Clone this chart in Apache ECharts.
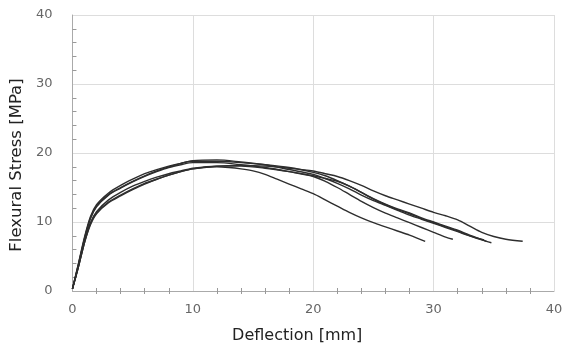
<!DOCTYPE html>
<html>
<head>
<meta charset="utf-8">
<script src="https://cdn.jsdelivr.net/npm/echarts@6/dist/echarts.min.js"></script>
<style>
  html, body { margin: 0; padding: 0; background: #fff; }
  #chart { width: 566px; height: 349px; }
</style>
</head>
<body>
<div id="chart"></div>
<script>
// specimen curves, [deflection mm, stress MPa]
var curveA = [[0,0.3],[0.5,3.5],[1,7],[1.5,9.8],[2,11.3],[3,12.9],[4,13.9],[5,14.8],[6,15.6],[7,16.2],[8,16.8],[9,17.3],[10,17.7],[12,18.0],[13,17.9],[14,17.7],[15,17.4],[16,16.9],[17,16.2],[18,15.5],[19,14.8],[20,14.1],[21,13.2],[22,12.3],[23,11.4],[24,10.6],[25,9.9],[26,9.3],[27,8.7],[28,8.1],[29.3,7.2]];
var curveB = [[0,0.3],[0.5,3.8],[1,7.5],[1.5,10.5],[2,12.2],[3,13.9],[4,14.9],[5,15.8],[6,16.6],[7,17.3],[8,17.9],[9,18.3],[10,18.6],[12,18.6],[14,18.3],[16,17.9],[18,17.3],[20,16.6],[21,15.9],[22,15.0],[23,14.0],[24,13.0],[25,12.1],[26,11.3],[27,10.6],[28,9.9],[29,9.2],[30,8.5],[31,7.8],[31.6,7.5]];
var curveC = [[0,0.3],[0.5,3.6],[1,7.2],[1.5,9.9],[2,11.5],[3,13.2],[4,14.3],[5,15.2],[6,15.9],[7,16.5],[8,17.0],[9,17.4],[10,17.8],[12,18.1],[14,18.1],[16,17.8],[18,17.3],[20,16.7],[21,16.3],[22,15.9],[23,15.2],[24,14.3],[25,13.4],[26,12.6],[27,11.9],[28,11.3],[29,10.6],[30,10.0],[31,9.4],[32,8.8],[33,8.1],[34.4,7.2]];
var curveD = [[0,0.3],[0.5,4],[1,7.8],[1.5,10.8],[2,12.5],[3,14.2],[4,15.3],[5,16.2],[6,17.0],[7,17.6],[8,18.1],[9,18.5],[10,18.8],[12,18.8],[14,18.6],[16,18.3],[18,17.9],[20,17.2],[21,16.7],[22,16.0],[23,15.2],[24,14.3],[25,13.3],[26,12.5],[27,11.8],[28,11.2],[29,10.5],[30,9.9],[31,9.3],[32,8.7],[33,8.0],[34,7.4],[34.8,7.0]];
var curveE = [[0,0.3],[0.5,3.5],[1,7],[1.5,9.6],[2,11.2],[3,12.8],[4,13.8],[5,14.7],[6,15.5],[7,16.2],[8,16.8],[9,17.3],[10,17.7],[12,18.1],[14,18.2],[16,18.1],[18,17.8],[20,17.4],[21,17.0],[22,16.6],[23,16.0],[24,15.3],[25,14.5],[26,13.8],[27,13.2],[28,12.6],[29,12.0],[30,11.4],[31,10.9],[32,10.3],[33,9.4],[34,8.5],[35,7.9],[36,7.5],[37.4,7.2]];
var curveF = [[0,0.3],[0.5,3.9],[1,7.6],[1.5,10.6],[2,12.3],[3,14.0],[4,15.0],[5,15.9],[6,16.7],[7,17.4],[8,18.0],[9,18.5],[10,18.9],[12,19.0],[14,18.7],[16,18.3],[18,17.6],[20,16.9],[21,16.3],[22,15.6],[23,14.8],[24,13.9],[25,13.1],[26,12.4],[27,11.7],[28,11.0],[29,10.4],[30,9.8],[31,9.2],[32,8.6],[33,8.0],[34.2,7.4]];

var curves = [curveA, curveB, curveC, curveD, curveE, curveF];

var font = 'DejaVu Sans';
var myChart = echarts.init(document.getElementById('chart'));

var series = curves.map(function (c) {
    return {
        type: 'line',
        data: c,
        smooth: 0.3,
        symbol: 'none',
        lineStyle: { color: '#2e2e2e', width: 1.4 },
        animation: false
    };
});

myChart.setOption({
    backgroundColor: '#fff',
    animation: false,
    grid: { left: 70, right: 12, top: 15, bottom: 56 },
    xAxis: [{
        type: 'value',
        min: 0, max: 40, interval: 10,
        name: 'Deflection [mm]',
        nameLocation: 'middle',
        nameGap: 37,
        nameTextStyle: { color: '#222', fontSize: 16, fontFamily: font, padding: [0, 32, 0, 0] },
        axisLine: { lineStyle: { color: '#aaa' } },
        axisTick: { show: false },
        minorTick: { show: true, splitNumber: 5, length: 3, lineStyle: { color: '#999' } },
        axisLabel: { color: '#666', fontSize: 13, fontFamily: font, margin: 12 },
        splitLine: { show: true, lineStyle: { color: '#ddd' } }
    }, {
        // same scale again, only to draw the inner half of the minor ticks
        type: 'value',
        position: 'bottom',
        min: 0, max: 40, interval: 10,
        axisLine: { show: false },
        axisTick: { show: false, inside: true },
        minorTick: { show: true, splitNumber: 5, length: 3, lineStyle: { color: '#999' } },
        axisLabel: { show: false },
        splitLine: { show: false }
    }],
    yAxis: {
        type: 'value',
        min: 0, max: 40, interval: 10,
        name: 'Flexural Stress [MPa]',
        nameLocation: 'middle',
        nameGap: 34,
        nameTextStyle: { color: '#222', fontSize: 16.5, fontFamily: font, padding: [0, 24, 0, 0] },
        axisLine: { show: true, lineStyle: { color: '#aaa' } },
        axisTick: { show: false, inside: true },
        minorTick: { show: true, splitNumber: 5, length: 4, lineStyle: { color: '#999' } },
        axisLabel: { color: '#666', fontSize: 13, fontFamily: font, margin: 20 },
        splitLine: { show: true, lineStyle: { color: '#ddd' } }
    },
    series: series
});
</script>
</body>
</html>
